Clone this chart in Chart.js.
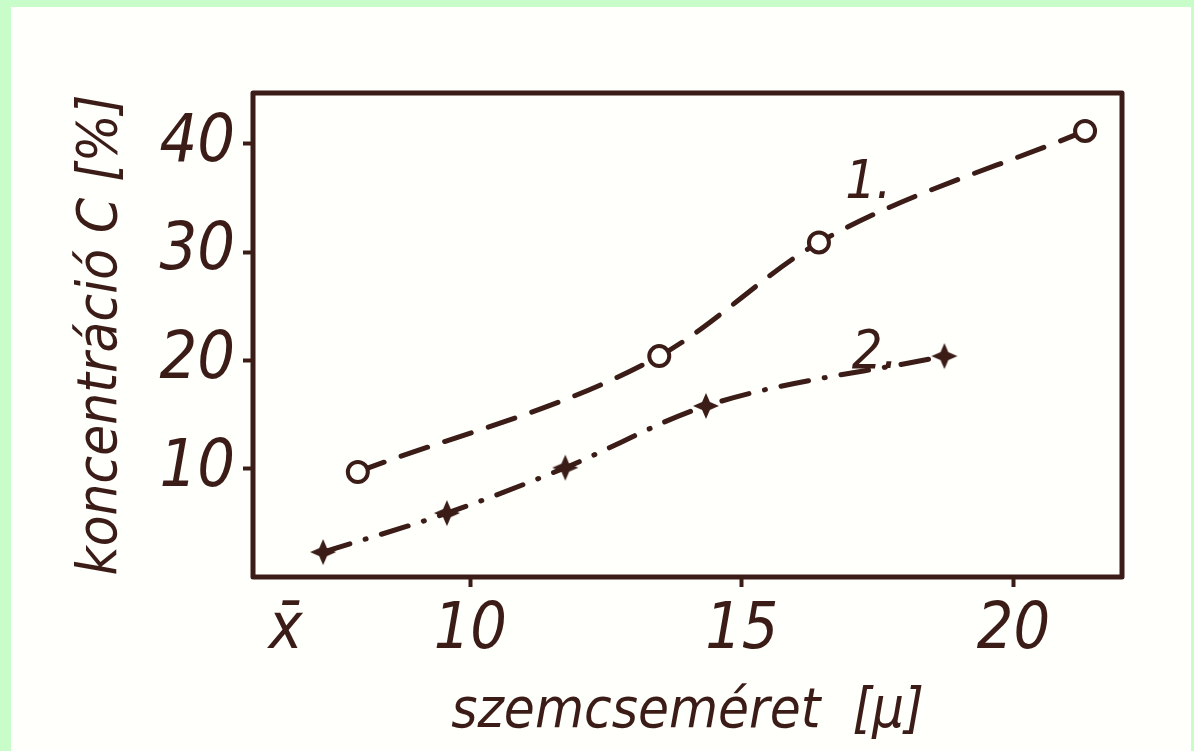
<!DOCTYPE html>
<html>
<head>
<meta charset="utf-8">
<script src="https://cdn.jsdelivr.net/npm/chart.js@4/dist/chart.umd.min.js"></script>
<style>
  html, body { margin: 0; padding: 0; background: #c8fcc8; width: 1194px; height: 751px; overflow: hidden; }
  #panel { position: absolute; left: 11px; top: 7px; width: 1180px; height: 744px; background: #fffffc; }
  #c { display: block; }
</style>
</head>
<body>
<div id="panel"><canvas id="c" width="1180" height="744"></canvas></div>
<script>
// ---- data ----
const seriesNames = ['1.', '2.'];
const s1X = [7.93, 13.48, 16.42, 21.32];
const s1Y = [9.7, 20.4, 30.9, 41.2];
const s2X = [7.29, 9.57, 11.75, 14.34, 18.73];
const s2Y = [2.3, 5.9, 10.1, 15.8, 20.4];
const xTickValues = [6.6, 10, 15, 20];
const xTickLabels = ['x\u0304', '10', '15', '20'];
const yTickValues = [10, 20, 30, 40];
const xTitle = 'szemcseméret  [\u03bc]';
const yTitle = 'koncentráció C [%]';
// label anchors for the curve names (data coordinates)
const nameX = [17.33, 17.45];
const nameY = [36.3, 20.6];

const INK = '#3b1c17';
const FONT = "'Liberation Sans Narrow', 'DejaVu Sans Condensed', 'Liberation Sans', sans-serif";

function makeStar() {
  const c = document.createElement('canvas');
  c.width = 28; c.height = 28;
  const g = c.getContext('2d');
  g.fillStyle = INK;
  g.beginPath();
  const cx = 14, cy = 14, R = 13, r = 5.5;
  for (let i = 0; i < 8; i++) {
    const a = -Math.PI / 2 + i * Math.PI / 4;
    const rad = (i % 2 === 0) ? R : r;
    const px = cx + rad * Math.cos(a), py = cy + rad * Math.sin(a);
    if (i === 0) g.moveTo(px, py); else g.lineTo(px, py);
  }
  g.closePath();
  g.fill();
  return c;
}

const frame = {
  id: 'frame',
  beforeDatasetsDraw(chart) {
    const { ctx, chartArea: a } = chart;
    ctx.save();
    ctx.strokeStyle = INK;
    ctx.lineWidth = 5;
    ctx.lineJoin = 'round';
    ctx.strokeRect(a.left, a.top, a.right - a.left, a.bottom - a.top);
    ctx.restore();
  },
  afterDatasetsDraw(chart) {
    const { ctx, scales } = chart;
    ctx.save();
    ctx.fillStyle = INK;
    ctx.font = 'italic 54px ' + FONT;
    ctx.textAlign = 'center';
    ctx.textBaseline = 'middle';
    seriesNames.forEach((n, i) => {
      ctx.fillText(n, scales.x.getPixelForValue(nameX[i]), scales.y.getPixelForValue(nameY[i]));
    });
    ctx.restore();
  }
};

new Chart(document.getElementById('c'), {
  type: 'scatter',
  data: {
    datasets: [
      {
        label: seriesNames[0],
        data: s1X.map((x, i) => ({ x, y: s1Y[i] })),
        showLine: true,
        borderColor: INK,
        borderWidth: 5,
        borderDash: [28, 18],
        borderCapStyle: 'round',
        cubicInterpolationMode: 'monotone',
        pointStyle: 'circle',
        pointRadius: 10,
        pointBorderWidth: 4,
        pointBorderColor: INK,
        pointBackgroundColor: '#fffffc'
      },
      {
        label: seriesNames[1],
        data: s2X.map((x, i) => ({ x, y: s2Y[i] })),
        showLine: true,
        borderColor: INK,
        borderWidth: 5,
        borderDash: [28, 16, 1, 16],
        borderCapStyle: 'round',
        cubicInterpolationMode: 'monotone',
        pointStyle: makeStar(),
        pointRadius: 14
      }
    ]
  },
  options: {
    responsive: false,
    animation: false,
    events: [],
    layout: { padding: { top: 86, right: 69, left: 0, bottom: 0 } },
    plugins: { legend: { display: false }, tooltip: { enabled: false } },
    scales: {
      x: {
        type: 'linear',
        min: 6, max: 22,
        afterBuildTicks: s => { s.ticks = xTickValues.map(v => ({ value: v })); },
        afterFit: s => { s.height = 174; },
        border: { display: false },
        grid: {
          drawOnChartArea: false, drawTicks: true, tickLength: 10, tickWidth: 4,
          tickColor: c => (c.index === 0 ? 'rgba(0,0,0,0)' : INK)
        },
        ticks: {
          color: INK, padding: 6, maxRotation: 0, autoSkip: false,
          font: { family: FONT, size: 64, style: 'italic' },
          callback: (v, i) => xTickLabels[i]
        },
        title: {
          display: true, text: xTitle, color: INK,
          font: { family: FONT, size: 56, style: 'italic' },
          padding: { top: 0, bottom: 5 }
        }
      },
      y: {
        type: 'linear',
        min: 0, max: 44.7,
        afterBuildTicks: s => { s.ticks = yTickValues.map(v => ({ value: v })); },
        afterFit: s => { s.width = 242; },
        border: { display: false },
        grid: {
          drawOnChartArea: false, drawTicks: true, tickLength: 10, tickWidth: 4, tickColor: INK
        },
        ticks: {
          color: INK, padding: 8, autoSkip: false,
          font: { family: FONT, size: 66, style: 'italic' },
          callback: v => String(v)
        },
        title: {
          display: true, text: yTitle, color: INK,
          font: { family: FONT, size: 56, style: 'italic' },
          padding: { top: 57, bottom: 0 }
        }
      }
    }
  },
  plugins: [frame]
});
</script>
</body>
</html>
